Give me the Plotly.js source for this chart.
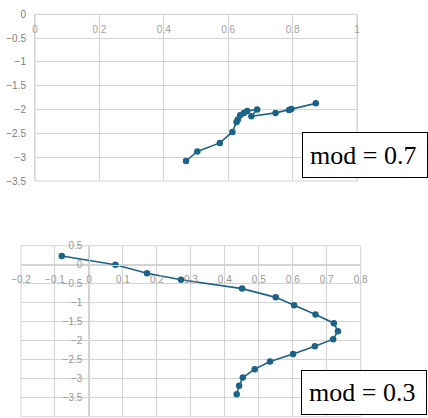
<!DOCTYPE html>
<html><head><meta charset="utf-8">
<script src="https://cdn.plot.ly/plotly-3.0.1.min.js"></script>
<style>html,body{margin:0;padding:0;background:#fff}#c{width:428px;height:418px}</style>
</head><body><div id="c"></div>
<script>
// mod = 0.7 profile
const topX = [0.872, 0.796, 0.789, 0.747, 0.672, 0.690, 0.659, 0.649, 0.637, 0.630, 0.626, 0.613, 0.574, 0.504, 0.469];
const topY = [-1.87, -1.99, -2.01, -2.07, -2.14, -2.00, -2.03, -2.07, -2.12, -2.21, -2.26, -2.47, -2.70, -2.88, -3.08];
// mod = 0.3 profile
const botX = [-0.080, 0.078, 0.171, 0.271, 0.451, 0.550, 0.604, 0.667, 0.721, 0.733, 0.719, 0.665, 0.601, 0.533, 0.488, 0.453, 0.442, 0.435];
const botY = [0.229, 0.0, -0.226, -0.395, -0.63, -0.86, -1.07, -1.31, -1.54, -1.75, -1.96, -2.15, -2.35, -2.55, -2.75, -2.97, -3.19, -3.41];
const labels = ["mod = 0.7", "mod = 0.3"];

const W = 428, H = 418;
const lineColor = '#1d6287';
const grid = '#d4d4d4';
const fx = p => p / W, fy = p => 1 - p / H;

const traces = [
  {x: topX, y: topY, xaxis: 'x', yaxis: 'y', mode: 'lines+markers', line: {color: lineColor, width: 1.6}, marker: {color: lineColor, size: 6.5}, hoverinfo: 'skip'},
  {x: botX, y: botY, xaxis: 'x2', yaxis: 'y2', mode: 'lines+markers', line: {color: lineColor, width: 1.6}, marker: {color: lineColor, size: 6.5}, hoverinfo: 'skip'}
];

const axCommon = {showgrid: true, gridcolor: grid, gridwidth: 1, zeroline: false, ticks: '', showline: false, fixedrange: true};
const tf = c => ({family: 'Liberation Sans, Arial, sans-serif', size: 10, color: c});

const layout = {
  width: W, height: H, margin: {l: 0, r: 0, t: 0, b: 0}, showlegend: false,
  paper_bgcolor: '#fff', plot_bgcolor: '#fff',
  xaxis: Object.assign({}, axCommon, {domain: [fx(35), fx(357)], range: [0, 1], dtick: 0.2, tick0: 0, anchor: 'free', position: fy(14.3), side: 'bottom', tickfont: tf('#a0a0a0'), ticklabelstandoff: 6, showline: true, linecolor: grid}),
  yaxis: Object.assign({}, axCommon, {domain: [fy(181), fy(14.3)], range: [-3.5, 0], dtick: 0.5, tick0: 0, anchor: 'x', tickfont: tf('#808080'), ticklabelstandoff: 6, showline: true, linecolor: grid, mirror: true}),
  xaxis2: Object.assign({}, axCommon, {domain: [fx(21), fx(360.7)], range: [-0.2, 0.8], dtick: 0.1, tick0: 0, anchor: 'free', position: fy(264.7), side: 'bottom', tickfont: tf('#999999'), ticklabelstandoff: 5, showline: true, linecolor: grid}),
  yaxis2: Object.assign({}, axCommon, {domain: [fy(416.7), fy(245.7)], range: [-4.002, 0.5], dtick: 0.5, tick0: 0, anchor: 'free', position: fx(89.3), side: 'left', tickfont: tf('#999999'), ticklabelstandoff: 5, showline: true, linecolor: grid}),
  shapes: [
    {type: 'rect', xref: 'x domain', yref: 'y domain', x0: 0, x1: 1, y0: 0, y1: 1, line: {color: grid, width: 1}, layer: 'below'},
    {type: 'rect', xref: 'x2 domain', yref: 'y2 domain', x0: 0, x1: 1, y0: 0, y1: 1, line: {color: grid, width: 1}, layer: 'below'}
  ],
  annotations: [
    {text: labels[0], xref: 'paper', yref: 'paper', x: fx(302.3), y: fy(132.3), xanchor: 'left', yanchor: 'top', showarrow: false, align: 'left', width: 110, height: 30, borderpad: 7, bordercolor: '#000', borderwidth: 1, bgcolor: '#fff', font: {family: 'Liberation Serif, Times New Roman, serif', size: 26, color: '#000'}},
    {text: labels[1], xref: 'paper', yref: 'paper', x: fx(301.3), y: fy(370), xanchor: 'left', yanchor: 'top', showarrow: false, align: 'left', width: 110, height: 29, borderpad: 7, bordercolor: '#000', borderwidth: 1, bgcolor: '#fff', font: {family: 'Liberation Serif, Times New Roman, serif', size: 26, color: '#000'}}
  ]
};
Plotly.newPlot('c', traces, layout, {staticPlot: true, displayModeBar: false});
</script></body></html>
